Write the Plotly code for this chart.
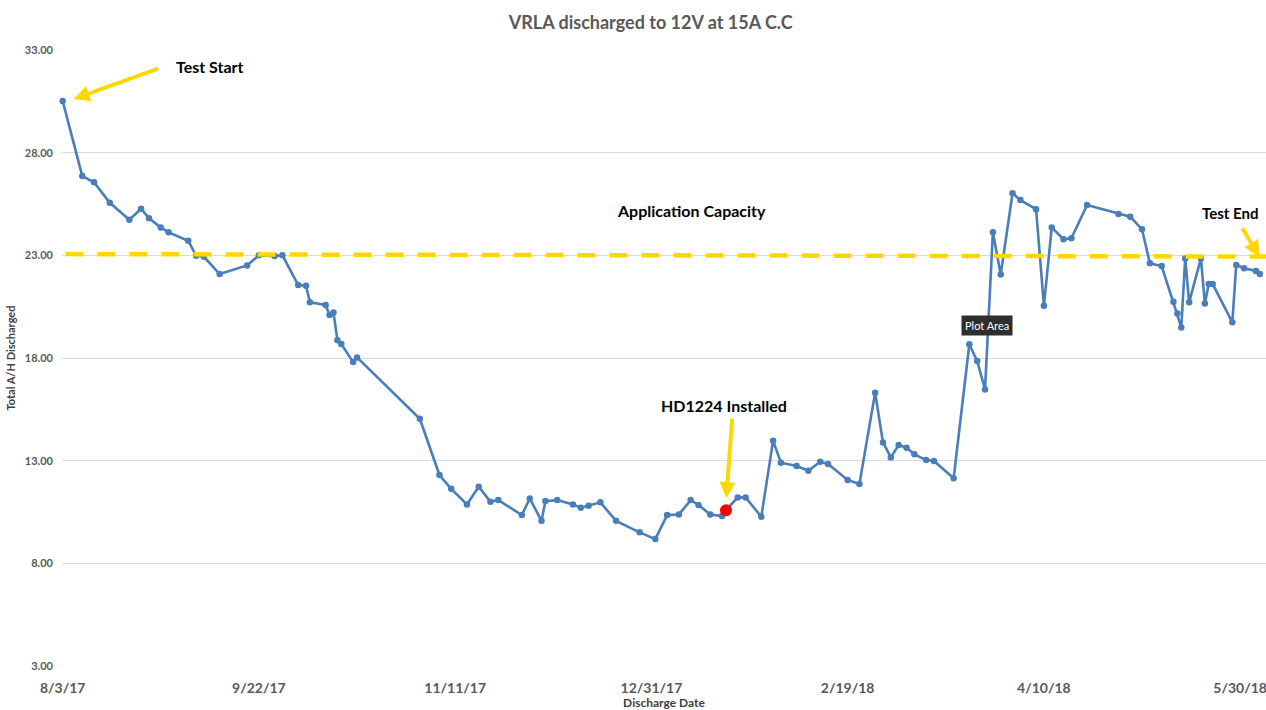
import plotly.graph_objects as go

# ---------------- data ----------------
DATES = [
    "2017-08-03", "2017-08-08", "2017-08-11", "2017-08-15", "2017-08-20", "2017-08-23", "2017-08-25", "2017-08-28", "2017-08-30",
    "2017-09-04", "2017-09-06", "2017-09-08", "2017-09-12", "2017-09-19", "2017-09-22", "2017-09-26", "2017-09-28",
    "2017-10-02", "2017-10-04", "2017-10-05", "2017-10-09", "2017-10-10", "2017-10-11", "2017-10-12", "2017-10-13", "2017-10-16", "2017-10-17",
    "2017-11-02", "2017-11-07", "2017-11-10", "2017-11-14", "2017-11-17", "2017-11-20", "2017-11-22", "2017-11-28", "2017-11-30",
    "2017-12-03", "2017-12-04", "2017-12-07", "2017-12-11", "2017-12-13", "2017-12-15", "2017-12-18", "2017-12-22", "2017-12-28",
    "2018-01-01", "2018-01-04", "2018-01-07", "2018-01-10", "2018-01-12", "2018-01-15", "2018-01-18", "2018-01-19", "2018-01-22", "2018-01-24", "2018-01-28", "2018-01-31",
    "2018-02-02", "2018-02-06", "2018-02-09", "2018-02-12", "2018-02-14", "2018-02-19", "2018-02-22", "2018-02-26", "2018-02-28",
    "2018-03-02", "2018-03-04", "2018-03-06", "2018-03-08", "2018-03-11", "2018-03-13", "2018-03-18", "2018-03-22", "2018-03-24", "2018-03-26", "2018-03-28", "2018-03-30",
    "2018-04-02", "2018-04-04", "2018-04-08", "2018-04-10", "2018-04-12", "2018-04-15", "2018-04-17", "2018-04-21", "2018-04-29",
    "2018-05-02", "2018-05-05", "2018-05-07", "2018-05-10", "2018-05-13", "2018-05-14", "2018-05-15", "2018-05-16", "2018-05-17", "2018-05-20", "2018-05-21", "2018-05-22", "2018-05-23", "2018-05-28", "2018-05-29", "2018-05-31",
    "2018-06-03", "2018-06-04",
]
AH_DISCHARGED = [
    30.52, 26.86, 26.56, 25.56, 24.73, 25.27, 24.80, 24.36, 24.12,
    23.71, 22.98, 22.93, 22.09, 22.51, 23.00, 22.97, 23.00,
    21.55, 21.52, 20.71, 20.58, 20.09, 20.22, 18.87, 18.68, 17.80, 18.03,
    15.04, 12.30, 11.63, 10.87, 11.73, 11.00, 11.08, 10.35, 11.16,
    10.07, 11.03, 11.08, 10.87, 10.71, 10.80, 10.97, 10.07, 9.51,
    9.18, 10.35, 10.38, 11.08, 10.84, 10.38, 10.30, 10.59, 11.21, 11.21, 10.27, 13.97,
    12.90, 12.74, 12.51, 12.95, 12.84, 12.06, 11.86, 16.31, 13.89,
    13.16, 13.76, 13.63, 13.31, 13.03, 12.98, 12.14, 18.67, 17.85, 16.47, 24.12, 22.07,
    26.02, 25.69, 25.25, 20.55, 24.36, 23.78, 23.83, 25.45, 25.01,
    24.88, 24.27, 22.61, 22.48, 20.74, 20.17, 19.49, 22.85, 20.71, 22.85, 20.66, 21.60, 21.60, 19.74, 22.53, 22.37,
    22.24, 22.09,
]
INSTALL_DATE = ["2018-01-19"]
INSTALL_VALUE = [10.59]

CAPACITY_DATES = ["2017-08-03 18:00", "2018-06-05 14:00"]
CAPACITY_VALUES = [23.06, 22.94]

X_TICKS = ["2017-08-03", "2017-09-22", "2017-11-11", "2017-12-31", "2018-02-19", "2018-04-10", "2018-05-30"]
X_TICK_TEXT = ["8/3/17", "9/22/17", "11/11/17", "12/31/17", "2/19/18", "4/10/18", "5/30/18"]
Y_TICKS = [3, 8, 13, 18, 23, 28, 33]

FONT = "Lato"
BLUE = "#4A7EBB"
GOLD = "#FFD700"
GRAY = "#595959"

fig = go.Figure()

fig.add_trace(go.Scatter(
    x=DATES, y=AH_DISCHARGED, mode="lines+markers",
    line=dict(color=BLUE, width=2.6),
    marker=dict(color=BLUE, size=6.5),
    cliponaxis=False, showlegend=False, hoverinfo="skip",
))
fig.add_trace(go.Scatter(
    x=CAPACITY_DATES, y=CAPACITY_VALUES, mode="lines",
    line=dict(color=GOLD, width=4.5, dash="18px,14px"),
    showlegend=False, hoverinfo="skip",
))
fig.add_trace(go.Scatter(
    x=INSTALL_DATE, y=INSTALL_VALUE, mode="markers",
    marker=dict(color="#FF0000", size=12),
    cliponaxis=False, showlegend=False, hoverinfo="skip",
))

bold_black = dict(family=FONT, size=16, color="#000000", weight="bold")

annotations = [
    # arrows
    dict(x="2017-08-05 19:00", y=30.61, ax=86, ay=-31, text="", showarrow=True,
         arrowcolor=GOLD, arrowwidth=4, arrowhead=2, arrowsize=0.8),
    dict(x="2018-01-19 02:00", y=11.18, ax=6, ay=-81, text="", showarrow=True,
         arrowcolor=GOLD, arrowwidth=4, arrowhead=2, arrowsize=0.8),
    dict(x="2018-06-03 22:00", y=22.93, ax=-18, ay=-30, text="", showarrow=True,
         arrowcolor=GOLD, arrowwidth=4, arrowhead=2, arrowsize=0.8),
    # labels
    dict(x="2017-09-09 10:00", y=32.22, text="Test Start", showarrow=False,
         font=bold_black, xanchor="center", yanchor="middle"),
    dict(x="2018-01-10 07:00", y=25.16, text="Application Capacity", showarrow=False,
         font=bold_black, xanchor="center", yanchor="middle"),
    dict(x="2018-01-18 14:00", y=15.71, text="HD1224 Installed", showarrow=False,
         font=bold_black, xanchor="center", yanchor="middle"),
    dict(x="2018-05-19 20:00", y=25.06, text="Test End", showarrow=False,
         font=dict(family=FONT, size=15, color="#000000", weight="bold"),
         xanchor="left", yanchor="middle"),
    dict(x="2018-03-26 12:00", y=19.58, text="Plot Area", showarrow=False,
         font=dict(family=FONT, size=11, color="#FFFFFF"), bgcolor="#2E2E2E",
         borderpad=3, xanchor="center", yanchor="middle"),
]

shapes = [
    # white text-box background hiding part of the top gridline
    dict(type="rect", xref="paper", yref="paper", x0=0.0855, x1=0.2218, y0=0.99, y1=1.01,
         fillcolor="white", line=dict(width=0), layer="above"),
]

fig.update_layout(
    width=1266, height=710,
    margin=dict(l=62, r=0, t=50, b=44),
    paper_bgcolor="white", plot_bgcolor="white",
    title=dict(text="VRLA discharged to 12V at 15A C.C", x=0.514, xanchor="center",
               y=1 - 23 / 710, yanchor="middle", yref="container",
               font=dict(family=FONT, size=18, color=GRAY, weight="bold")),
    xaxis=dict(
        type="date", range=["2017-08-02 20:00", "2018-06-05 14:00"],
        tickvals=X_TICKS, ticktext=X_TICK_TEXT,
        showgrid=False, showline=False, zeroline=False, ticks="",
        ticklabelstandoff=12, ticklabeloverflow="allow",
        tickfont=dict(family=FONT, size=14, color=GRAY, weight="bold"),
        title=dict(text="Discharge Date", standoff=15,
                   font=dict(family=FONT, size=12, color="#404040", weight="bold")),
        automargin=False,
    ),
    yaxis=dict(
        range=[3, 33], tickvals=Y_TICKS, tickformat=".2f",
        showgrid=True, gridcolor="#D9D9D9", gridwidth=1,
        showline=False, zeroline=False, ticks="",
        ticklabelstandoff=8,
        tickfont=dict(family=FONT, size=11, color=GRAY, weight="bold"),
        title=dict(text="Total A/H Discharged", standoff=7,
                   font=dict(family=FONT, size=11, color="#404040", weight="bold")),
        automargin=False,
    ),
    annotations=annotations,
    shapes=shapes,
)

fig.write_html(
    "out.html",
    config={"displayModeBar": False},
    post_script="document.body.style.margin='0';document.body.style.overflow='hidden';",
)
